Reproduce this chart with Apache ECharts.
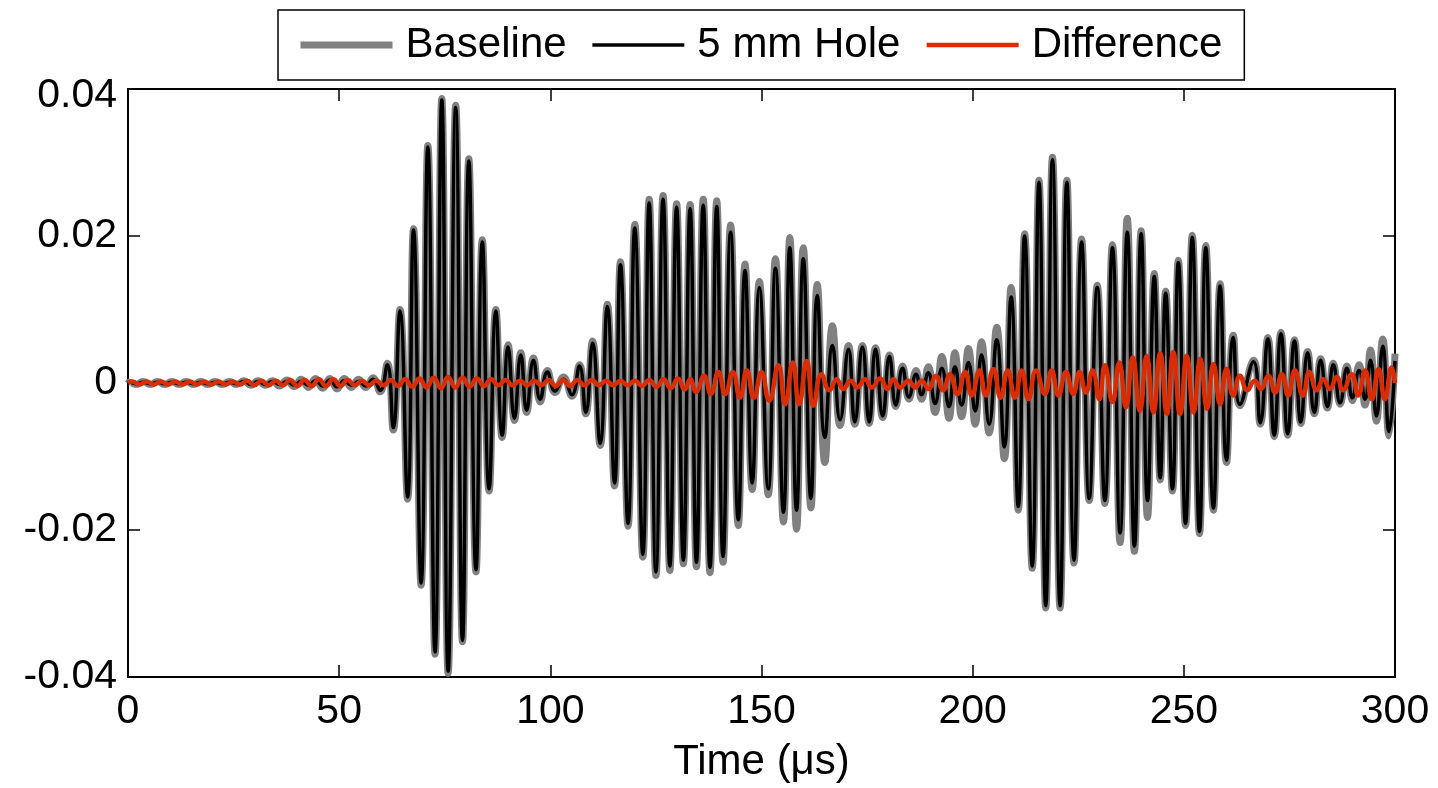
<!DOCTYPE html>
<html>
<head>
<meta charset="utf-8">
<script src="https://cdn.jsdelivr.net/npm/echarts@6/dist/echarts.min.js"></script>
<style>
html,body{margin:0;padding:0;background:#fff;}
#chart{width:1438px;height:788px;}
</style>
</head>
<body>
<div id="chart"></div>
<script>
// Axis ticks
var xTicks = [0, 50, 100, 150, 200, 250, 300];
var yTicks = [-0.04, -0.02, 0, 0.02, 0.04];
var seriesNames = ['Baseline', '5 mm Hole', 'Difference'];

// Times (µs) of the read extremes for Baseline and 5 mm Hole
var holeTime = [0,0.2,1.9,3.6,5.3,7.0,8.7,10.4,12.1,13.8,15.5,17.2,18.9,20.6,22.3,24.0,25.7,27.4,29.1,30.8,32.5,34.2,35.9,37.6,39.3,41.0,42.7,44.4,46.1,47.8,49.5,51.2,52.9,54.6,56.3,58.0,59.7,
61.4,62.8,64.4,66.2,67.6,69.4,71.0,72.7,74.3,75.8,77.6,79.2,80.7,82.4,83.9,85.5,87.1,88.6,90.0,91.5,93.0,94.4,96.0,97.6,99.3,
101.1,103.1,105.1,106.9,108.4,110.0,111.8,113.5,115.2,116.6,118.4,120.0,121.9,123.4,125.0,126.7,128.3,129.9,131.5,133.1,134.6,136.2,137.8,139.4,140.9,142.7,144.5,146.1,147.8,149.5,
151.6,153.3,155.2,156.7,158.3,159.9,161.7,163.2,165.0,166.8,168.6,170.6,172.1,173.9,175.5,177.0,178.7,180.3,181.8,183.4,184.9,186.6,187.9,189.5,191.1,192.7,194.4,195.8,197.4,199.0,
200.6,202.1,203.9,205.7,207.5,209.1,210.8,212.3,214.1,215.7,217.3,218.9,220.7,222.3,224.0,225.8,227.6,229.5,231.3,233.1,234.9,236.6,238.3,239.9,241.4,243.0,244.4,245.7,247.3,248.7,
250.4,252.0,253.7,255.2,257.0,258.6,260.1,261.7,263.3,266.5,268.1,269.9,271.4,273.0,274.6,276.2,277.7,279.3,280.9,282.4,284.0,285.4,287.0,288.6,289.9,291.5,292.9,294.2,295.6,297.1,298.6,300];

var holeValue = [0,0.0001,-0.0001,0.0001,-0.0001,0.0001,-0.0001,0.0001,-0.0001,0.0001,-0.0001,0.0001,-0.0001,0.0001,-0.0001,0.0001,-0.0001,0.0002,-0.0002,0.0002,-0.0002,0.0002,-0.0002,0.0002,-0.0003,0.0002,-0.0003,0.0003,-0.0004,0.0004,-0.0005,0.0003,-0.0003,0.0002,-0.0004,0.0005,-0.0010,
0.0025,-0.0061,0.0098,-0.0155,0.0208,-0.0272,0.0321,-0.0366,0.0385,-0.0392,0.0375,-0.0350,0.0302,-0.0254,0.0192,-0.0144,0.0098,-0.0071,0.0049,-0.0048,0.0038,-0.0037,0.0031,-0.0022,0.0015,
-0.0011,0.0005,-0.0016,0.0023,-0.0040,0.0054,-0.0082,0.0104,-0.0136,0.0161,-0.0191,0.0211,-0.0233,0.0245,-0.0257,0.0250,-0.0249,0.0239,-0.0241,0.0237,-0.0244,0.0242,-0.0251,0.0240,-0.0236,0.0205,-0.0186,0.0153,-0.0136,0.0130,
-0.0144,0.0156,-0.0176,0.0184,-0.0173,0.0169,-0.0157,0.0119,-0.0074,0.0051,-0.0050,0.0046,-0.0053,0.0049,-0.0053,0.0046,-0.0045,0.0036,-0.0030,0.0020,-0.0019,0.0012,-0.0016,0.0014,-0.0028,0.0020,-0.0032,0.0022,-0.0030,0.0028,
-0.0038,0.0038,-0.0056,0.0059,-0.0087,0.0117,-0.0168,0.0200,-0.0249,0.0273,-0.0303,0.0304,-0.0303,0.0273,-0.0241,0.0192,-0.0157,0.0130,-0.0160,0.0184,-0.0204,0.0205,-0.0222,0.0203,-0.0160,0.0145,-0.0129,0.0122,-0.0144,0.0164,
-0.0191,0.0198,-0.0202,0.0184,-0.0170,0.0132,-0.0105,0.0062,-0.0029,0.0029,-0.0054,0.0060,-0.0071,0.0067,-0.0069,0.0057,-0.0053,0.0041,-0.0040,0.0031,-0.0032,0.0025,-0.0027,0.0020,-0.0020,0.0017,-0.0022,0.0031,-0.0045,0.0050,-0.0066,0.0030];

var baselineValue = [0,0.0001,-0.0002,0.0002,-0.0002,0.0002,-0.0002,0.0002,-0.0002,0.0002,-0.0002,0.0002,-0.0002,0.0002,-0.0002,0.0002,-0.0002,0.0003,-0.0003,0.0003,-0.0003,0.0003,-0.0004,0.0004,-0.0005,0.0005,-0.0006,0.0006,-0.0007,0.0006,-0.0008,0.0006,-0.0006,0.0005,-0.0006,0.0007,-0.0012,
0.0027,-0.0064,0.0100,-0.0158,0.0210,-0.0275,0.0323,-0.0369,0.0387,-0.0395,0.0378,-0.0352,0.0305,-0.0257,0.0195,-0.0147,0.0100,-0.0074,0.0052,-0.0051,0.0041,-0.0040,0.0034,-0.0026,0.0017,
-0.0013,0.0008,-0.0018,0.0025,-0.0042,0.0057,-0.0085,0.0107,-0.0140,0.0165,-0.0195,0.0216,-0.0237,0.0250,-0.0262,0.0255,-0.0255,0.0244,-0.0246,0.0243,-0.0250,0.0250,-0.0258,0.0248,-0.0244,0.0215,-0.0194,0.0162,-0.0145,0.0138,
-0.0152,0.0169,-0.0189,0.0198,-0.0199,0.0184,-0.0170,0.0134,-0.0108,0.0078,-0.0058,0.0051,-0.0056,0.0051,-0.0055,0.0048,-0.0047,0.0038,-0.0032,0.0023,-0.0022,0.0017,-0.0022,0.0022,-0.0040,0.0036,-0.0048,0.0041,-0.0046,0.0047,
-0.0056,0.0056,-0.0068,0.0076,-0.0103,0.0130,-0.0173,0.0203,-0.0252,0.0276,-0.0306,0.0307,-0.0306,0.0276,-0.0245,0.0196,-0.0160,0.0133,-0.0164,0.0188,-0.0217,0.0224,-0.0229,0.0207,-0.0183,0.0149,-0.0132,0.0125,-0.0147,0.0167,
-0.0194,0.0201,-0.0205,0.0187,-0.0173,0.0135,-0.0108,0.0065,-0.0031,0.0031,-0.0056,0.0062,-0.0073,0.0069,-0.0071,0.0059,-0.0055,0.0043,-0.0042,0.0033,-0.0034,0.0027,-0.0029,0.0023,-0.0024,0.0025,-0.0030,0.0045,-0.0052,0.0060,-0.0072,0.0040];

// Difference series (its own time grid)
var diffTime = [0,1.0,2.7,4.4,6.1,7.8,9.5,11.2,12.9,14.6,16.3,18.0,19.7,21.4,23.1,24.8,26.5,28.2,29.9,31.6,33.3,35.0,36.7,38.4,40.1,41.8,43.5,45.2,46.9,48.6,50.3,52.0,53.7,55.4,57.1,58.8,60.5,62.2,63.9,65.6,67.3,69.0,70.7,72.4,74.1,75.8,77.5,79.2,80.9,82.6,84.3,86.0,87.7,89.4,91.1,92.8,94.5,96.2,97.9,99.6,
101.3,103.0,104.7,106.4,108.1,109.8,111.5,113.2,114.9,116.6,118.3,120.0,121.7,123.4,125.1,126.8,128.5,130.2,131.8,
133.1,134.5,136.4,138.0,139.8,141.4,143.2,144.9,146.5,148.2,150.0,151.8,154.0,155.6,157.4,158.9,160.7,162.3,164.2,166.1,167.8,169.4,171.1,172.7,174.5,176.1,178.1,179.8,181.2,182.8,184.8,186.4,187.9,189.5,191.3,193.0,194.6,196.4,198.2,199.8,
201.6,203.1,204.9,206.6,208.3,210.0,211.6,213.2,215.0,217.1,218.7,220.3,222.1,223.8,225.3,226.8,228.4,230.0,231.3,233.1,234.7,236.3,237.9,239.6,241.2,242.8,244.4,246.0,247.5,249.1,
250.7,252.3,253.9,255.5,257.0,258.6,260.1,261.7,263.3,265.0,266.8,268.2,270.0,271.6,273.2,274.7,276.3,278.2,279.7,281.5,283.0,284.6,286.2,287.7,289.7,291.3,292.9,294.5,296.1,297.6,299.2,300];

var diffValue = [0,0.0002,-0.0002,0.0002,-0.0002,0.0002,-0.0002,0.0002,-0.0002,0.0002,-0.0002,0.0002,-0.0002,0.0002,-0.0002,0.0002,-0.0002,0.0003,-0.0003,0.0003,-0.0003,0.0003,-0.0003,0.0004,-0.0004,0.0004,-0.0004,0.0005,-0.0004,0.0005,-0.0004,0.0004,-0.0003,0.0003,-0.0003,0.0003,-0.0003,0.0004,-0.0004,0.0005,-0.0005,0.0006,-0.0006,0.0007,-0.0007,0.0008,-0.0006,0.0007,-0.0005,0.0006,-0.0004,0.0005,-0.0003,0.0004,-0.0003,0.0003,-0.0003,0.0003,-0.0003,0.0004,
-0.0004,0.0004,-0.0004,0.0004,-0.0003,0.0004,-0.0003,0.0003,-0.0003,0.0003,-0.0003,0.0003,-0.0004,0.0004,-0.0005,0.0005,-0.0007,0.0006,-0.0009,
0.0005,-0.0012,0.0010,-0.0015,0.0015,-0.0015,0.0015,-0.0020,0.0017,-0.0020,0.0015,-0.0024,0.0024,-0.0029,0.0028,-0.0029,0.0030,-0.0031,0.0012,-0.0010,0.0005,-0.0008,0.0003,-0.0006,0.0005,-0.0006,0.0006,-0.0008,0.0005,-0.0006,0.0003,-0.0006,0.0003,-0.0008,0.0010,-0.0010,0.0012,-0.0015,0.0015,-0.0017,
0.0017,-0.0017,0.0019,-0.0020,0.0017,-0.0020,0.0017,-0.0022,0.0017,-0.0015,0.0017,-0.0017,0.0015,-0.0015,0.0015,-0.0013,0.0017,-0.0022,0.0024,-0.0026,0.0028,-0.0033,0.0035,-0.0038,0.0037,-0.0040,0.0040,-0.0042,0.0042,-0.0042,
0.0037,-0.0040,0.0033,-0.0035,0.0026,-0.0029,0.0019,-0.0017,0.0010,-0.0010,0.0003,-0.0008,0.0010,-0.0013,0.0012,-0.0017,0.0017,-0.0017,0.0015,-0.0010,0.0005,-0.0008,0.0008,-0.0010,0.0012,-0.0017,0.0017,-0.0022,0.0019,-0.0022,0.0021,0];

function zip(t, v) {
  var out = [];
  var n = Math.min(t.length, v.length);
  for (var i = 0; i < n; i++) out.push([t[i], v[i]]);
  return out;
}

var FONT = '"Liberation Sans", Arial, Helvetica, sans-serif';
var chart = echarts.init(document.getElementById('chart'), null, {renderer: 'canvas'});

function yFmt(v) {
  var r = Number(v.toFixed(2));
  var s = r === 0 ? '0' : String(r);
  if (r === yTicks[yTicks.length - 1]) return '{top|' + s + '}';
  return s;
}

var tickStyle = {show: true, inside: true, length: 12, lineStyle: {color: '#000', width: 1.5}};
var lineStyleAx = {show: true, onZero: false, lineStyle: {color: '#000', width: 2}};

var option = {
  animation: false,
  backgroundColor: '#fff',
  textStyle: {fontFamily: FONT, color: '#000'},
  grid: {left: 128, top: 89, right: 43, bottom: 111, show: true, borderColor: '#000', borderWidth: 2, backgroundColor: 'transparent'},
  legend: {
    data: seriesNames,
    left: 278, top: 10,
    orient: 'horizontal',
    itemWidth: 92, itemHeight: 14, itemGap: 24,
    padding: [14, 22, 14, 19],
    borderColor: '#000', borderWidth: 1.5, backgroundColor: '#fff',
    lineStyle: {width: 'inherit'},
    itemStyle: {opacity: 0, borderWidth: 0},
    textStyle: {fontSize: 42, color: '#000', fontFamily: FONT, padding: [0, 0, 0, 8]}
  },
  xAxis: [{
    type: 'value', min: xTicks[0], max: xTicks[xTicks.length - 1], interval: xTicks[1] - xTicks[0], position: 'bottom',
    axisLine: lineStyleAx,
    axisTick: tickStyle,
    axisLabel: {show: true, fontSize: 41, color: '#000', fontFamily: FONT, margin: 14},
    splitLine: {show: false},
    name: 'Time (μs)', nameLocation: 'middle', nameGap: 64,
    nameTextStyle: {fontSize: 42, color: '#000', fontFamily: FONT}
  }, {
    type: 'value', min: xTicks[0], max: xTicks[xTicks.length - 1], interval: xTicks[1] - xTicks[0], position: 'top',
    axisLine: lineStyleAx,
    axisTick: tickStyle,
    axisLabel: {show: false}, splitLine: {show: false}
  }],
  yAxis: [{
    type: 'value', min: yTicks[0], max: yTicks[yTicks.length - 1], interval: 0.02, position: 'left',
    axisLine: lineStyleAx,
    axisTick: tickStyle,
    axisLabel: {show: true, fontSize: 41, color: '#000', fontFamily: FONT, margin: 11, formatter: yFmt,
      rich: {top: {fontSize: 41, color: '#000', fontFamily: FONT, padding: [14, 0, 0, 0]}}},
    splitLine: {show: false}
  }, {
    type: 'value', min: yTicks[0], max: yTicks[yTicks.length - 1], interval: 0.02, position: 'right',
    axisLine: lineStyleAx,
    axisTick: tickStyle,
    axisLabel: {show: false}, splitLine: {show: false}
  }],
  series: [{
    name: seriesNames[0], type: 'line', xAxisIndex: 0, yAxisIndex: 0,
    data: zip(holeTime, baselineValue), symbol: 'none', showSymbol: false, smooth: 0.5, z: 2,
    lineStyle: {color: '#808080', width: 7}, itemStyle: {color: '#808080'}
  }, {
    name: seriesNames[1], type: 'line', xAxisIndex: 0, yAxisIndex: 0,
    data: zip(holeTime, holeValue), symbol: 'none', showSymbol: false, smooth: 0.5, z: 3,
    lineStyle: {color: '#000000', width: 3.5}, itemStyle: {color: '#000000'}
  }, {
    name: seriesNames[2], type: 'line', xAxisIndex: 0, yAxisIndex: 0,
    data: zip(diffTime, diffValue), symbol: 'none', showSymbol: false, smooth: 0.5, z: 4,
    lineStyle: {color: '#d92d00', width: 4.5}, itemStyle: {color: '#d92d00'}
  }]
};
chart.setOption(option);
</script>
</body>
</html>
